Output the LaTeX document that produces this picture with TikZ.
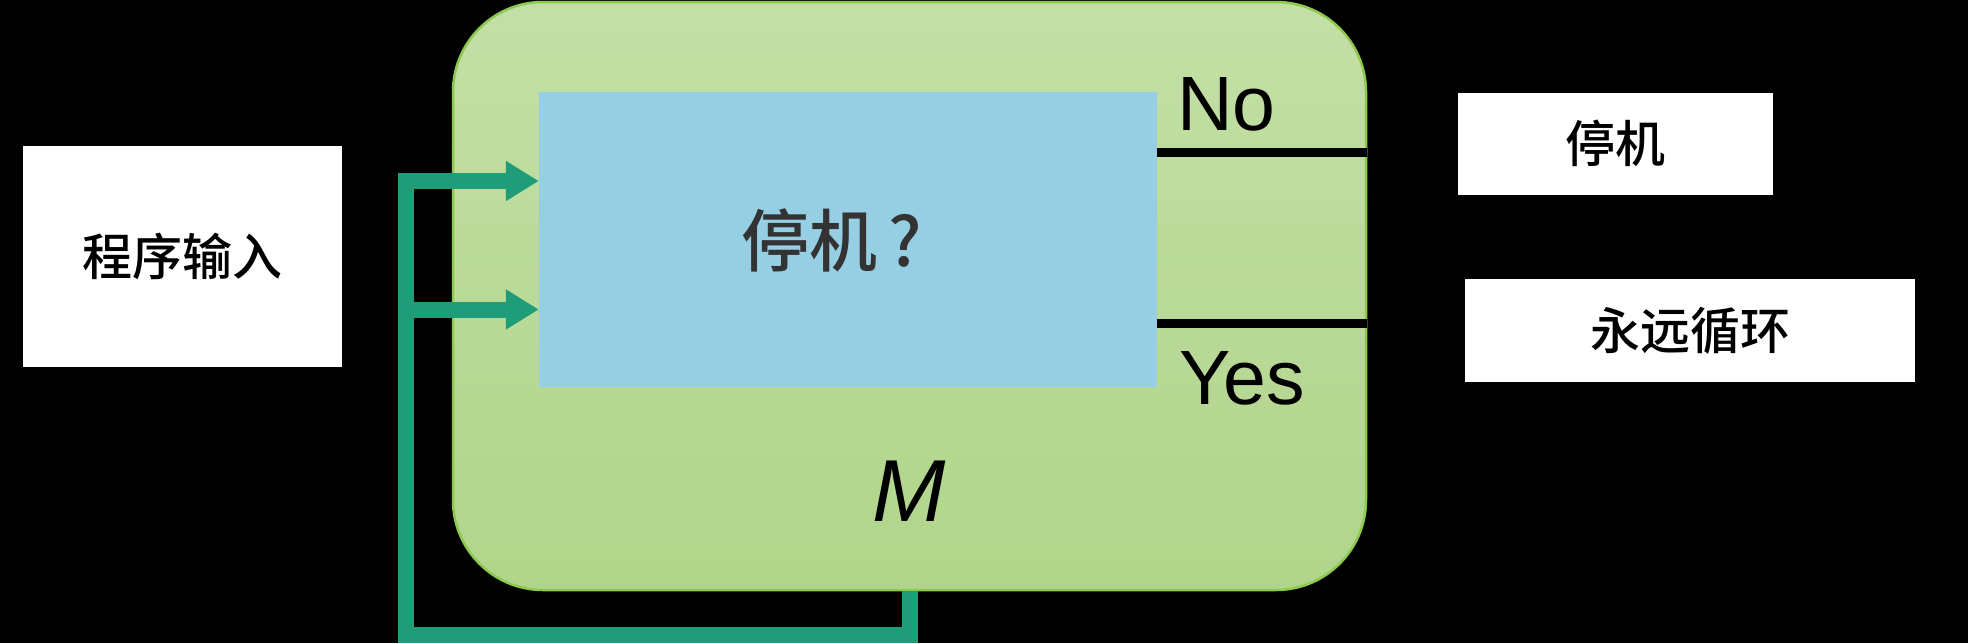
\documentclass[tikz,border=0pt]{standalone}
\usepackage{fontspec}
\setmainfont{Liberation Sans}
\newfontfamily\cjk{Noto Sans CJK SC}[UprightFont={* Medium}]
\usetikzlibrary{arrows.meta,calc}
\definecolor{gtop}{HTML}{C4DFA6}
\definecolor{gbot}{HTML}{B0D58A}
\definecolor{gborder}{HTML}{8DC84F}
\definecolor{bluefill}{HTML}{96CEE4}
\definecolor{loopgreen}{HTML}{1F9C78}
\definecolor{darktext}{HTML}{333333}
\begin{document}
\begin{tikzpicture}[x=1pt,y=-1pt,
  whitebox/.style={fill=white, inner sep=0pt, font=\cjk\fontsize{50}{60}\selectfont},
  loopline/.style={draw=loopgreen, line width=16pt, line join=miter},
  looparrow/.style={-{Triangle[length=33pt,width=38pt]}},
  blackline/.style={draw=black, line width=9pt},
  label/.style={inner sep=0pt, text=black}]

\fill[black] (0,0) rectangle (1968,643);
\useasboundingbox (0,0) rectangle (1968,643);

% input box
\node[whitebox, minimum width=319pt, minimum height=221pt] (input) at (182.5,256.5) {程序输入};

% machine M
\node[draw=gborder, line width=2.5pt, top color=gtop, bottom color=gbot,
      rounded corners=90pt, minimum width=913pt, minimum height=588pt, inner sep=0pt] (M) at (909.5,296) {};

% halting decider box
\node[fill=bluefill, minimum width=618pt, minimum height=295pt, inner sep=0pt] (halt) at (848,239.5) {};
\node[inner sep=0pt, text=darktext, font=\cjk\fontsize{68}{80}\selectfont] (q) at (832,240) {停机\,?};

% No / Yes outputs
\coordinate (noY) at (1157,152);
\coordinate (yesY) at (1157,323);
\draw[blackline] (halt.east |- noY) -- (M.east |- noY);
\draw[blackline] (halt.east |- yesY) -- (M.east |- yesY);
\node[label, font=\fontsize{77}{90}\selectfont] (no) at (1226.5,104.5) {No};
\node[label, font=\fontsize{77}{90}\selectfont] (yes) at (1242,378) {Yes};
\node[label, font=\itshape\fontsize{88}{100}\selectfont] (mlabel) at (909,491.5) {M};

% result boxes
\node[whitebox, minimum width=315pt, minimum height=102.5pt] (halted) at (1615.5,143.75) {停机};
\node[whitebox, minimum width=450pt, minimum height=102.5pt] (forever) at (1690,330.5) {永远循环};

% feedback loop
\coordinate (a1) at (406,181);
\coordinate (a2) at (406,309.5);
\coordinate (bl) at (406,635);
\draw[loopline, looparrow] (M.south) |- (bl) -- (a1) -- (halt.west |- a1);
\draw[loopline, looparrow] (a2) -- (halt.west |- a2);
\end{tikzpicture}
\end{document}
